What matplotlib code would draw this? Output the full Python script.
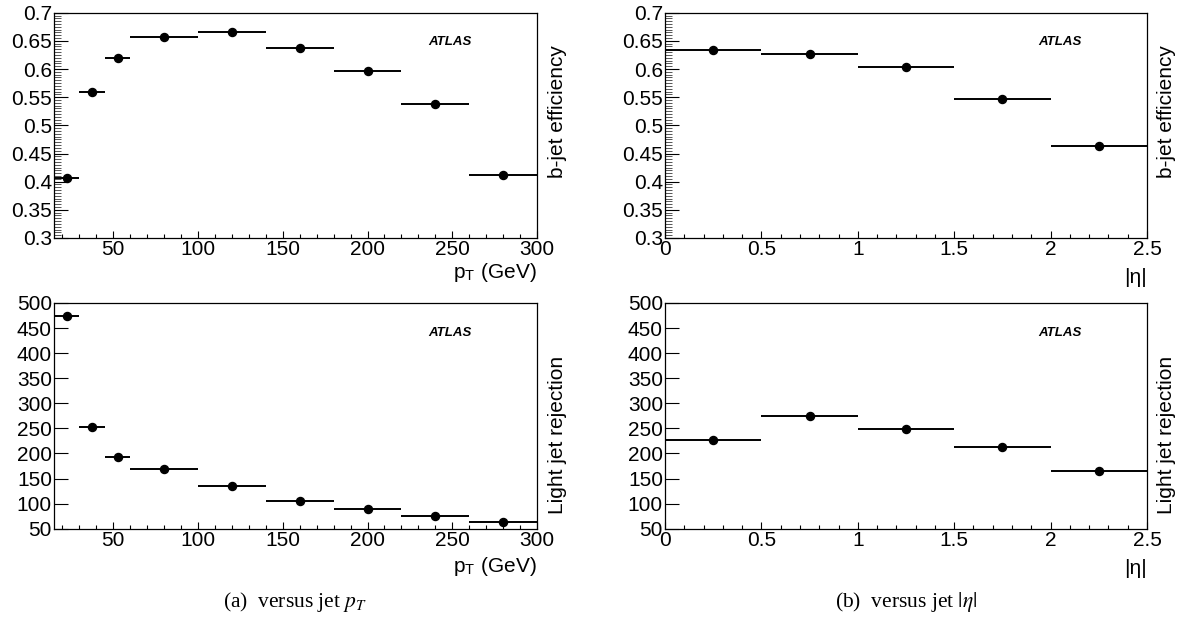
import numpy as np
import matplotlib
matplotlib.use("Agg")
import matplotlib.pyplot as plt
from matplotlib.ticker import MultipleLocator, FormatStrFormatter

plt.rcParams["font.family"] = ["Liberation Sans", "DejaVu Sans"]
plt.rcParams["mathtext.fontset"] = "stix"

# pT bins (GeV)
pt_low = [15, 30, 45, 60, 100, 140, 180, 220, 260]
pt_high = [30, 45, 60, 100, 140, 180, 220, 260, 300]
beff_pt = [0.407, 0.559, 0.620, 0.656, 0.666, 0.638, 0.597, 0.538, 0.411]
lrej_pt = [474, 253, 193, 170, 136, 105, 90, 75, 64]

# |eta| bins
eta_low = [0.0, 0.5, 1.0, 1.5, 2.0]
eta_high = [0.5, 1.0, 1.5, 2.0, 2.5]
beff_eta = [0.633, 0.626, 0.604, 0.546, 0.463]
lrej_eta = [226, 274, 248, 212, 165]

W, H = 1186, 626
fig = plt.figure(figsize=(W / 100, H / 100), dpi=100)


def px_axes(x0, x1, ytop, ybot):
    return fig.add_axes([x0 / W, 1 - ybot / H, (x1 - x0) / W, (ybot - ytop) / H])


def style(ax, xlim, ylim, xmaj, xmin, ymaj, ymin=None):
    ax.set_xlim(*xlim)
    ax.set_ylim(*ylim)
    ax.xaxis.set_major_locator(MultipleLocator(xmaj))
    ax.xaxis.set_minor_locator(MultipleLocator(xmin))
    ax.yaxis.set_major_locator(MultipleLocator(ymaj))
    if ymin is not None:
        ax.yaxis.set_minor_locator(MultipleLocator(ymin))
        ax.tick_params(axis="y", which="minor", direction="in", length=5,
                       width=0.7, color="#555555")
    else:
        ax.yaxis.set_minor_locator(plt.NullLocator())
    ax.xaxis.set_major_formatter(FormatStrFormatter("%g"))
    ax.yaxis.set_major_formatter(FormatStrFormatter("%g"))
    ax.tick_params(axis="x", which="major", direction="in", length=5, width=0.8,
                   labelsize=15, pad=1.5)
    ax.tick_params(axis="x", which="minor", direction="in", length=3, width=0.8)
    ax.tick_params(axis="y", which="major", direction="in", length=10, width=0.8,
                   labelsize=15, pad=1.5)
    for s in ax.spines.values():
        s.set_linewidth(0.9)


def draw(ax, lo, hi, vals):
    lo = np.array(lo)
    hi = np.array(hi)
    centers = (lo + hi) / 2
    ax.errorbar(centers, vals, xerr=(hi - lo) / 2, fmt="o", color="black",
                ms=5.8, elinewidth=1.4, capsize=0)
    ax.text(0.774, 0.868, "ATLAS", transform=ax.transAxes, fontsize=9.5,
            fontweight="bold", fontstyle="italic", ha="left", va="center")


# (a) versus pT
ax1 = px_axes(54, 537, 12.7, 238)
draw(ax1, pt_low, pt_high, beff_pt)
style(ax1, (15, 300), (0.3, 0.7), 50, 10, 0.05, 0.005)
ax1.text(1.043, 0.56, "b-jet efficiency", transform=ax1.transAxes, rotation=90,
         ha="center", va="center", fontsize=15)
ax1.text(1.0, -0.178, r"p$_{\mathregular{T}}$ (GeV)", transform=ax1.transAxes,
         ha="right", va="baseline", fontsize=15)

ax2 = px_axes(54, 537, 303, 528.7)
draw(ax2, pt_low, pt_high, lrej_pt)
style(ax2, (15, 300), (50, 500), 50, 10, 50)
ax2.text(1.043, 0.415, "Light jet rejection", transform=ax2.transAxes, rotation=90,
         ha="center", va="center", fontsize=15)
ax2.text(1.0, -0.19, r"p$_{\mathregular{T}}$ (GeV)", transform=ax2.transAxes,
         ha="right", va="baseline", fontsize=15)

# (b) versus |eta|
ax3 = px_axes(665, 1147, 12.7, 238)
draw(ax3, eta_low, eta_high, beff_eta)
style(ax3, (0, 2.5), (0.3, 0.7), 0.5, 0.1, 0.05, 0.005)
ax3.text(1.041, 0.56, "b-jet efficiency", transform=ax3.transAxes, rotation=90,
         ha="center", va="center", fontsize=15)
ax3.text(1.0, -0.2, "|η|", transform=ax3.transAxes,
         ha="right", va="baseline", fontsize=15)

ax4 = px_axes(665, 1147, 303, 528.7)
draw(ax4, eta_low, eta_high, lrej_eta)
style(ax4, (0, 2.5), (50, 500), 0.5, 0.1, 50)
ax4.text(1.041, 0.415, "Light jet rejection", transform=ax4.transAxes, rotation=90,
         ha="center", va="center", fontsize=15)
ax4.text(1.0, -0.2, "|η|", transform=ax4.transAxes,
         ha="right", va="baseline", fontsize=15)

# captions
fig.text(295 / W, 1 - 602 / H, r"(a)  versus jet $p_T$", ha="center", va="center",
         fontsize=15.5, family="Liberation Serif")
fig.text(906 / W, 1 - 602 / H, r"(b)  versus jet $|\eta|$", ha="center", va="center",
         fontsize=15.5, family="Liberation Serif")

fig.savefig("out.png", dpi=100)
